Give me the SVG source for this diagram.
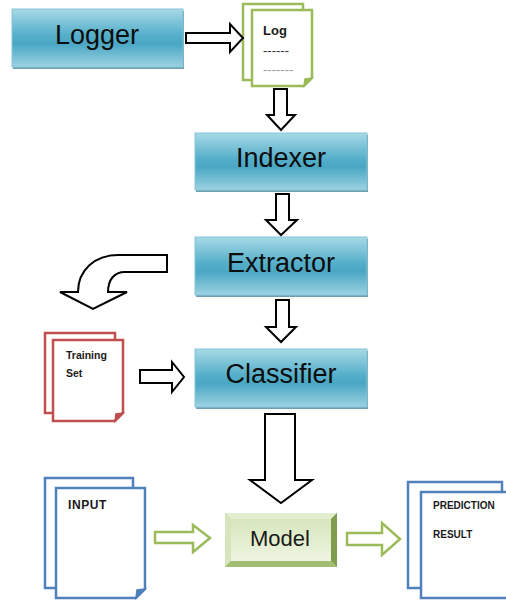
<svg xmlns="http://www.w3.org/2000/svg" width="506" height="600" viewBox="0 0 506 600">
  <defs>
    <linearGradient id="tealFill" x1="0" y1="0" x2="0" y2="1">
      <stop offset="0" stop-color="#a8d9e7"/>
      <stop offset="0.45" stop-color="#55afca"/>
      <stop offset="0.6" stop-color="#4aa7c4"/>
      <stop offset="1" stop-color="#9dd2e2"/>
    </linearGradient>
    <linearGradient id="modelFace" x1="0" y1="0" x2="0" y2="1">
      <stop offset="0" stop-color="#d7e6bc"/>
      <stop offset="1" stop-color="#eef5e2"/>
    </linearGradient>
    <style>
      .box { fill: url(#tealFill); stroke: #86c5d8; stroke-width: 1; }
      .shadow { fill: #3d8196; opacity: 0.75; }
      .big { font-family: "Liberation Sans", Arial, sans-serif; font-size: 27px; fill: #0d0d0d; text-anchor: middle; }
      .arrow { fill: #ffffff; stroke: #000000; stroke-width: 2; stroke-linejoin: miter; }
      .garrow { fill: #ffffff; stroke: #9bbb59; stroke-width: 2.5; stroke-linejoin: miter; }
      .page { fill: #ffffff; stroke-width: 2.5; stroke-linejoin: miter; }
      .green { stroke: #9bbb59; }
      .red { stroke: #c0504d; }
      .blue { stroke: #4f81bd; }
      .doc { font-family: "Liberation Sans", Arial, sans-serif; font-weight: bold; fill: #1a1a1a; }
    </style>
  </defs>

  <!-- process boxes -->
  <g id="logger">
    <rect class="shadow" x="13" y="11" width="171" height="58"/>
    <rect class="box" x="12" y="9" width="171" height="58"/>
    <text class="big" x="97" y="44">Logger</text>
  </g>
  <g id="indexer">
    <rect class="shadow" x="196" y="135" width="172" height="57"/>
    <rect class="box" x="195" y="133" width="172" height="57"/>
    <text class="big" x="281" y="167">Indexer</text>
  </g>
  <g id="extractor">
    <rect class="shadow" x="196" y="239" width="172" height="58"/>
    <rect class="box" x="195" y="237" width="172" height="58"/>
    <text class="big" x="281" y="272">Extractor</text>
  </g>
  <g id="classifier">
    <rect class="shadow" x="196" y="351" width="172" height="58"/>
    <rect class="box" x="195" y="349" width="172" height="58"/>
    <text class="big" x="281" y="383">Classifier</text>
  </g>

  <!-- bevelled model button -->
  <g id="model">
    <rect x="225" y="513" width="112" height="54" fill="#c4d79d"/>
    <polygon points="225,513 337,513 331,519 231,519" fill="#e3edd0"/>
    <polygon points="225,513 231,519 231,561 225,567" fill="#d6e5bc"/>
    <polygon points="337,513 337,567 331,561 331,519" fill="#7f9c4f"/>
    <polygon points="225,567 337,567 331,561 231,561" fill="#a3bd73"/>
    <rect x="231" y="519" width="100" height="42" fill="url(#modelFace)"/>
    <text x="280" y="546" font-family="'Liberation Sans', Arial, sans-serif" font-size="22" fill="#1a1a1a" text-anchor="middle">Model</text>
  </g>

  <!-- documents -->
  <g id="log">
    <rect class="page green" x="243" y="4" width="60" height="76"/>
    <path class="page green" d="M252,10 H312 V78 L304,86 H252 Z"/>
    <path d="M304,86 L305,79 L312,78 Z" fill="#9bbb59" stroke="#9bbb59" stroke-width="1.5"/>
    <text class="doc" x="263" y="35" font-size="13">Log</text>
    <text x="263" y="55" font-family="'Liberation Sans', Arial, sans-serif" font-size="13" fill="#333333">------</text>
    <text x="263" y="74" font-family="'Liberation Sans', Arial, sans-serif" font-size="13" fill="#9a9a9a">-------</text>
  </g>
  <g id="training-set">
    <rect class="page red" x="45" y="333" width="70" height="80"/>
    <path class="page red" d="M53,340 H123 V413 L115,421 H53 Z"/>
    <path d="M115,421 L116,414 L123,413 Z" fill="#c0504d" stroke="#c0504d" stroke-width="1.5"/>
    <text class="doc" x="66" y="359" font-size="10.5">Training</text>
    <text class="doc" x="66" y="377" font-size="10.5">Set</text>
  </g>
  <g id="input">
    <rect class="page blue" x="45" y="478" width="88" height="110"/>
    <path class="page blue" d="M56,488 H145 V589 L136,598 H56 Z"/>
    <path d="M136,598 L137,590 L145,589 Z" fill="#4f81bd" stroke="#4f81bd" stroke-width="1.5"/>
    <text class="doc" x="68" y="509" font-size="12" letter-spacing="0.6">INPUT</text>
  </g>
  <g id="prediction-result">
    <rect class="page blue" x="408" y="482" width="94" height="106"/>
    <path class="page blue" d="M421,492 H509 V598 H421 Z"/>
    <text class="doc" x="433" y="509" font-size="10">PREDICTION</text>
    <text class="doc" x="433" y="538" font-size="10">RESULT</text>
  </g>

  <!-- block arrows -->
  <g id="connectors">
    <path class="arrow" d="M186,33 H230 V24 L243,38 L230,52 V43 H186 Z"/>
    <path class="arrow" d="M274,89 H287 V115 H295 L281,130 L267,115 H274 Z"/>
    <path class="arrow" d="M276,194 H289 V220 H297 L281,235 L266,220 H276 Z"/>
    <path class="arrow" d="M276,300 H289 V327 H296 L281,342 L266,327 H276 Z"/>
    <path class="arrow" d="M167,255 V272 H125 C114,272 108,280 108,292 H127 L93,309 L60,292 H78 C78,270 95,255 118,255 Z"/>
    <path class="arrow" d="M140,370 H172 V362 L184,377 L172,392 V383 H140 Z"/>
    <path class="arrow" d="M265,414 H295 V480 H312 L281,503 L250,480 H265 Z"/>
    <path class="garrow" d="M155,532 H193 V525 L210,538 L193,552 V543 H155 Z"/>
    <path class="garrow" d="M347,533 H382 V523 L400,539 L382,555 V545 H347 Z"/>
  </g>
</svg>
